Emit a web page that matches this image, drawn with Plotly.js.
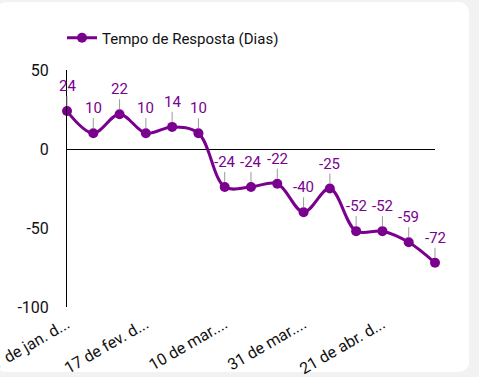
<!DOCTYPE html>
<html>
<head>
<meta charset="utf-8">
<script src="https://cdn.plot.ly/plotly-3.0.1.min.js"></script>
<style>
  html, body { margin: 0; padding: 0; width: 479px; height: 377px; overflow: hidden; background: #f2f2f2; }
  #card { position: absolute; left: -4px; top: 2px; width: 473px; height: 370px; background: #ffffff; border-radius: 10px; }
  #chart { position: absolute; left: 0; top: 0; width: 479px; height: 377px; }
</style>
</head>
<body>
<div id="card"></div>
<div id="chart"></div>
<script>
const categories = ["27 de jan.", "3 de fev.", "10 de fev.", "17 de fev.", "24 de fev.", "3 de mar.", "10 de mar.", "17 de mar.", "24 de mar.", "31 de mar.", "7 de abr.", "14 de abr.", "21 de abr.", "28 de abr.", "5 de mai."];
const values = [24, 10, 22, 10, 14, 10, -24, -24, -22, -40, -25, -52, -52, -59, -72];
const tickIndex = [0, 3, 6, 9, 12];
const tickLabels = ["27 de jan. d...", "17 de fev. d...", "10 de mar....", "31 de mar....", "21 de abr. d..."];
const seriesName = "Tempo de Resposta (Dias)";

const purple = "#7a008e";
const xs = categories.map((c, i) => i);

const trace = {
  x: xs,
  y: values,
  type: "scatter",
  mode: "lines+markers",
  name: seriesName,
  cliponaxis: false,
  line: { color: purple, width: 3, shape: "spline", smoothing: 1 },
  marker: { color: purple, size: 10 },
  hoverinfo: "skip"
};

const annotations = values.map((v, i) => ({
  x: i, y: v, xref: "x", yref: "y",
  text: String(v),
  showarrow: true, arrowhead: 0, arrowwidth: 1, arrowcolor: "#999999",
  ax: 0, ay: -15, standoff: 5,
  xanchor: "center", yanchor: "bottom",
  font: { family: "Roboto", size: 15, color: purple },
  borderpad: 0
}));

const layout = {
  width: 479, height: 377,
  margin: { l: 67, r: 44, t: 70, b: 70 },
  paper_bgcolor: "rgba(0,0,0,0)",
  plot_bgcolor: "rgba(0,0,0,0)",
  font: { family: "Roboto", size: 15, color: "#111111" },
  showlegend: true,
  legend: {
    x: -5 / 368, xanchor: "left",
    y: 1 + (70 - 38) / 237, yanchor: "middle",
    orientation: "h",
    font: { family: "Roboto", size: 15, color: "#111111" },
    bgcolor: "rgba(0,0,0,0)"
  },
  xaxis: {
    range: [0, 14],
    tickmode: "array",
    tickvals: tickIndex,
    ticktext: tickLabels,
    tickangle: -30,
    showgrid: false, zeroline: false, showline: false,
    ticks: "",
    ticklabelstandoff: 4,
    ticklabeloverflow: "allow",
    tickfont: { family: "Roboto", size: 16, color: "#111111" },
    fixedrange: true
  },
  yaxis: {
    range: [-100, 50],
    tickmode: "array",
    tickvals: [-100, -50, 0, 50],
    ticktext: ["-100", "-50", "0", "50"],
    showgrid: false,
    zeroline: true, zerolinecolor: "#000000", zerolinewidth: 1,
    showline: true, linecolor: "#000000", linewidth: 1,
    ticks: "outside", ticklen: 14, tickcolor: "rgba(0,0,0,0)",
    tickfont: { family: "Roboto", size: 16, color: "#111111" },
    fixedrange: true
  },
  annotations: annotations
};

Plotly.newPlot("chart", [trace], layout, { displayModeBar: false, staticPlot: true });
</script>
</body>
</html>
